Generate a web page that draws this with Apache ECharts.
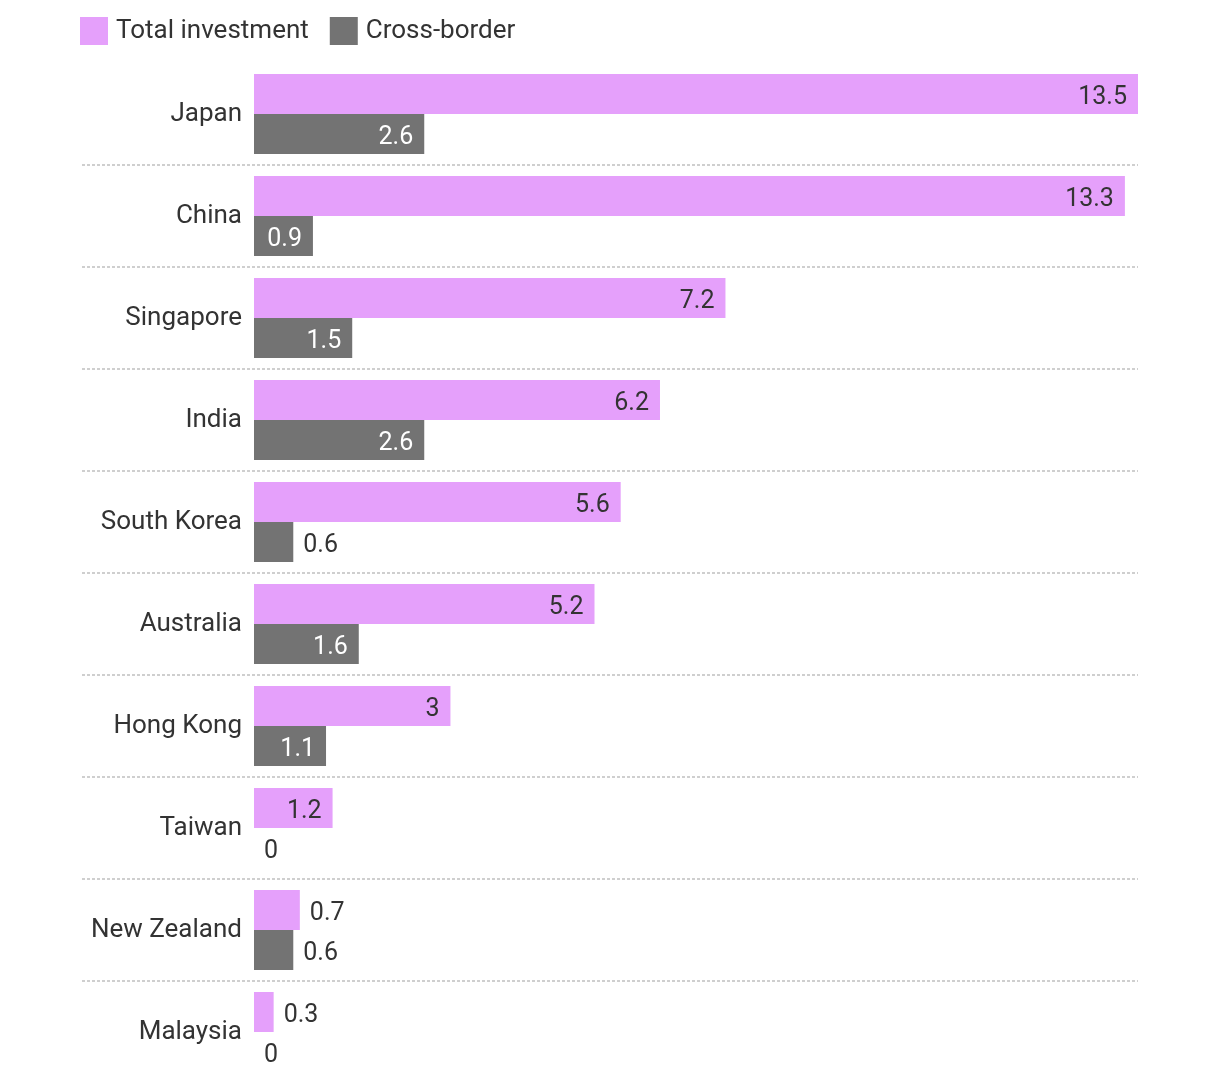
<!DOCTYPE html>
<html>
<head>
<meta charset="utf-8">
<script src="https://cdn.jsdelivr.net/npm/echarts@6/dist/echarts.min.js"></script>
<style>
  html, body { margin: 0; padding: 0; background: #fff; }
  #main { width: 1220px; height: 1082px; }
</style>
</head>
<body>
<div id="main"></div>
<script>
var categories = ['Japan', 'China', 'Singapore', 'India', 'South Korea', 'Australia', 'Hong Kong', 'Taiwan', 'New Zealand', 'Malaysia'];
var totalInvestment = [13.5, 13.3, 7.2, 6.2, 5.6, 5.2, 3, 1.2, 0.7, 0.3];
var crossBorder = [2.6, 0.9, 1.5, 2.6, 0.6, 1.6, 1.1, 0, 0.6, 0];

var PINK = '#e5a0fb';
var GREY = '#737373';
var TXT = '#333333';
var FONT = 'Roboto';

// big bars get the label inside, small ones outside
function withLabels(values, insideColor) {
  return values.map(function (v) {
    var inside = v >= 0.8;
    return {
      value: v,
      label: {
        show: true,
        position: inside ? 'insideRight' : 'right',
        distance: inside ? 11 : 10,
        offset: [0, 4],
        color: inside ? insideColor : TXT,
        fontFamily: FONT,
        fontSize: 25
      }
    };
  });
}

// separator grid: one extra band so the closing line falls off the page
var sepCategories = categories.concat(['']);

var chart = echarts.init(document.getElementById('main'));

var option = {
  animation: false,
  legend: {
    left: 80,
    top: 17,
    padding: 0,
    itemWidth: 28,
    itemHeight: 28,
    itemGap: 21,
    icon: 'rect',
    textStyle: { color: TXT, fontFamily: FONT, fontSize: 26, padding: [4, 0, 0, 3] },
    data: ['Total investment', 'Cross-border']
  },
  grid: [
    { left: 254, right: 82, top: 63, height: 1020, outerBoundsMode: 'none' },
    { left: 82, right: 82, top: 63, height: 1122, outerBoundsMode: 'none' }
  ],
  xAxis: [
    { gridIndex: 0, type: 'value', min: 0, max: 13.5, show: false },
    { gridIndex: 1, type: 'value', min: 0, max: 1, show: false }
  ],
  yAxis: [
    {
      gridIndex: 0,
      type: 'category',
      inverse: true,
      data: categories,
      axisLine: { show: false },
      axisTick: { show: false },
      axisLabel: { color: TXT, fontFamily: FONT, fontSize: 26, margin: 12, padding: [4, 0, 0, 0] },
      splitLine: { show: false }
    },
    {
      gridIndex: 1,
      type: 'category',
      inverse: true,
      data: sepCategories,
      axisLine: { show: false },
      axisTick: { show: false },
      axisLabel: { show: false },
      splitLine: {
        show: true,
        interval: function (i) { return i !== 0 && i !== 10; },
        lineStyle: { color: '#cfcfcf', width: 2, type: [3, 2] }
      }
    }
  ],
  series: [
    {
      name: 'Total investment',
      type: 'bar',
      xAxisIndex: 0,
      yAxisIndex: 0,
      barWidth: 40,
      barGap: '0%',
      itemStyle: { color: PINK },
      data: withLabels(totalInvestment, TXT)
    },
    {
      name: 'Cross-border',
      type: 'bar',
      xAxisIndex: 0,
      yAxisIndex: 0,
      barWidth: 40,
      barGap: '0%',
      itemStyle: { color: GREY },
      data: withLabels(crossBorder, '#ffffff')
    }
  ]
};

chart.setOption(option);
</script>
</body>
</html>
